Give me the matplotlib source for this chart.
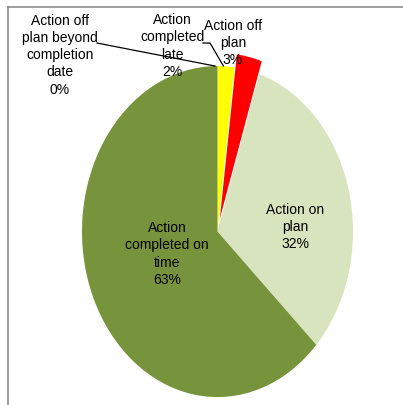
import matplotlib.pyplot as plt
from matplotlib.lines import Line2D

# data (clockwise from 12 o'clock)
categories = ['Action off\nplan beyond\ncompletion\ndate',
              'Action\ncompleted\nlate',
              'Action off\nplan',
              'Action on\nplan',
              'Action\ncompleted on\ntime']
values = [0, 2, 3, 32, 63]
colors = ['#FFC000', '#FFFF00', '#FF0000', '#D7E4BD', '#77933C']
explode = [0, 0, 0.08, 0, 0]

plt.rcParams['font.family'] = ['Liberation Sans Narrow', 'Liberation Sans', 'DejaVu Sans']

fig = plt.figure(figsize=(4.03, 4.05), dpi=100)
ax = fig.add_axes([0, 0, 1, 1])

wedges, _ = ax.pie(values, colors=colors, explode=explode, startangle=90,
                   counterclock=False, wedgeprops=dict(linewidth=0))

# stretch into the ellipse of the original chart
ax.set_aspect('auto')
ax.set_xlim(-1.605, 1.369)
ax.set_ylim(-1.048, 1.399)
ax.axis('off')

labels = [f'{c}\n{v}%' for c, v in zip(categories, values)]
txt = dict(ha='center', va='center', fontsize=10, linespacing=1.3)

# labels inside the big slices
ax.text(0.572, 0.027, labels[3], **txt)
ax.text(-0.373, -0.136, labels[4], **txt)

# labels above the pie
ax.text(-1.162, 1.066, labels[0], **txt)
ax.text(-0.33, 1.121, labels[1], **txt)
ax.text(0.114, 1.139, labels[2], **txt)

# leader lines
ax.plot([-0.889, -0.018], [1.139, 1.0], color='black', lw=0.9, clip_on=False)
ax.plot([-0.107, -0.055, 0.044], [1.139, 1.139, 1.0], color='black', lw=0.9, clip_on=False)

# chart area border (cropped)
fig.add_artist(Line2D([8 / 403, 1], [1 - 7 / 405, 1 - 7 / 405], color='#8c8c8c', lw=1.2))
fig.add_artist(Line2D([8 / 403, 8 / 403], [0, 1 - 7 / 405], color='#8c8c8c', lw=1.2))

fig.savefig('out.png', dpi=100)
